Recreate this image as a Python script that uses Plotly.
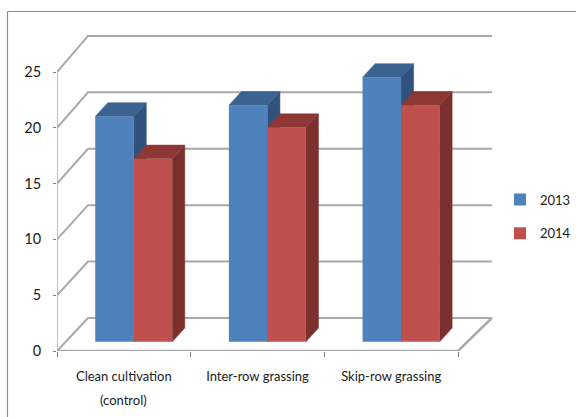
import plotly.graph_objects as go

categories = ["Clean cultivation", "Inter-row grassing", "Skip-row grassing"]
category_notes = ["(control)", "", ""]
series_2013 = [20.2, 21.2, 23.7]
series_2014 = [16.4, 19.2, 21.2]
y_ticks = [0, 5, 10, 15, 20, 25]

W, H = 576, 417
L, R, T, B = 57, 0, 30, 66
XMAX = (W - L - R) / 133.67
YMAX = (H - T - B) / 11.16
FONT = "Lato"
TXT = "#1a1a1a"
GRID = "#a9a9a9"
BLUE, BLUE_TOP, BLUE_SIDE = "#4f81bd", "#3b6390", "#30527c"
RED, RED_TOP, RED_SIDE = "#c0504d", "#8e3836", "#7b302e"

centers = [i + 0.5 for i in range(len(categories))]
n = len(categories)
wall_dx_l, wall_dx_r = 0.232, 0.254
wall_dy0, wall_dk = 2.96, 1.011
bar_w = 0.288
off_a, off_b = -0.214, 0.074
bar_base = 0.82
bar_dx, bar_dy = 0.094, 1.23

fig = go.Figure()


def poly(xs, ys, color):
    fig.add_trace(go.Scatter(x=xs, y=ys, mode="lines", fill="toself", fillcolor=color,
                             line=dict(color=color, width=0.5), showlegend=False,
                             hoverinfo="skip", cliponaxis=False))


def line(xs, ys, width=2.0, color=GRID):
    fig.add_trace(go.Scatter(x=xs, y=ys, mode="lines", line=dict(color=color, width=width),
                             showlegend=False, hoverinfo="skip", cliponaxis=False))


# walls: gridlines running from the front axis to the back wall
for v in y_ticks:
    back = v * wall_dk + wall_dy0
    line([0, wall_dx_l, n + wall_dx_r], [v, back, back])
line([0, 0], [y_ticks[0], y_ticks[-1]], 1.5)
line([0, n, n + wall_dx_r], [0, 0, wall_dy0], 2.5)


def box_faces(values, off, top_c, side_c):
    for c, v in zip(centers, values):
        x0, x1 = c + off, c + off + bar_w
        t = bar_base + v
        poly([x1, x1 + bar_dx, x1 + bar_dx, x1, x1],
             [bar_base, bar_base + bar_dy, t + bar_dy, t, bar_base], side_c)
        poly([x0, x0 + bar_dx, x1 + bar_dx, x1, x0],
             [t, t + bar_dy, t + bar_dy, t, t], top_c)


box_faces(series_2013, off_a, BLUE_TOP, BLUE_SIDE)
box_faces(series_2014, off_b, RED_TOP, RED_SIDE)

for name, vals, off, col in (("2013", series_2013, off_a, BLUE), ("2014", series_2014, off_b, RED)):
    fig.add_trace(go.Bar(x=centers, y=vals, base=[bar_base] * n, width=bar_w, offset=off,
                         name=name, marker=dict(color=col, line=dict(width=0)),
                         legendgroup=name, xaxis="x2", yaxis="y2"))

fx = lambda px: (px - L) / (W - L - R)
fy = lambda py: (H - B - py) / (H - T - B)
frame = dict(type="line", xref="paper", yref="paper", line=dict(color="#8c8c8c", width=1.2))
shapes = [
    dict(frame, x0=fx(7.5), x1=fx(576), y0=fy(11.5), y1=fy(11.5)),
    dict(frame, x0=fx(7.5), x1=fx(7.5), y0=fy(11.5), y1=fy(417)),
]

annotations = [
    dict(x=c, y=0, xref="x", yref="y", text=note, showarrow=False, yshift=-49,
         font=dict(family=FONT, size=13, color=TXT))
    for c, note in zip(centers, category_notes) if note
]

fig.update_layout(
    width=W, height=H, autosize=False,
    margin=dict(l=L, r=R, t=T, b=B, pad=0),
    paper_bgcolor="white", plot_bgcolor="white",
    font=dict(family=FONT, size=14, color=TXT),
    shapes=shapes,
    annotations=annotations,
    barmode="overlay",
    xaxis=dict(range=[0, XMAX], tickmode="array", tickvals=centers, ticktext=categories,
               ticks="", showgrid=False, zeroline=False, showline=False, tickangle=0,
               tickfont=dict(family=FONT, size=13, color=TXT),
               ticklabelstandoff=16,
               minor=dict(tickmode="array", tickvals=list(range(n + 1)), ticks="outside",
                          ticklen=5, tickcolor="#808080", tickwidth=1, showgrid=False)),
    yaxis=dict(range=[0, YMAX], tickmode="array", tickvals=y_ticks, ticks="outside",
               ticklen=3, tickcolor="#808080", showgrid=False, zeroline=False, showline=False,
               tickfont=dict(family=FONT, size=14.5, color=TXT), ticklabelstandoff=9),
    xaxis2=dict(range=[0, XMAX], overlaying="x", visible=False),
    yaxis2=dict(range=[0, YMAX], overlaying="y", visible=False),
    legend=dict(x=1, y=fy(184.5), xanchor="right", yanchor="top", traceorder="grouped",
                tracegroupgap=14, font=dict(family=FONT, size=13, color=TXT),
                bgcolor="rgba(0,0,0,0)"),
)

fig.write_html("out.html", config={"displayModeBar": False},
               post_script="document.body.style.margin='0';document.body.style.overflow='hidden';")
